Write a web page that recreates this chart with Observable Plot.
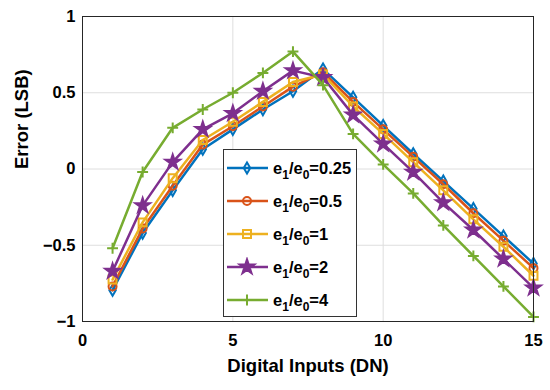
<!DOCTYPE html>
<html>
<head>
<meta charset="utf-8">
<script src="https://cdn.jsdelivr.net/npm/d3@7"></script>
<script src="https://cdn.jsdelivr.net/npm/@observablehq/plot@0.6"></script>
<style>
  body { margin: 0; background: #fff; }
  #wrap { position: relative; width: 550px; height: 390px; font-family: "Liberation Sans", Arial, sans-serif; }
  #legend { position: absolute; left: 223px; top: 149px; width: 134px; height: 168px; border: 1px solid #333; background: #fff; box-sizing: border-box; }
  .row { position: absolute; left: 0; height: 20px; display: flex; align-items: center; }
  .row svg { display: block; }
  .row span { font-weight: bold; font-size: 16.5px; color: #000; margin-left: 3px; white-space: nowrap; }
  .row sub { font-size: 12px; vertical-align: -5px; line-height: 0; }
</style>
</head>
<body>
<div id="wrap"></div>
<script>
// ---- data ----
const inputs = [1, 2, 3, 4, 5, 6, 7, 8, 9, 10, 11, 12, 13, 14, 15];
const ratios = ["0.25", "0.5", "1", "2", "4"];
const err025 = [-0.795, -0.42, -0.14, 0.13, 0.26, 0.39, 0.51, 0.655, 0.47, 0.285, 0.10, -0.08, -0.26, -0.44, -0.62];
const err05  = [-0.77, -0.39, -0.11, 0.16, 0.28, 0.41, 0.54, 0.635, 0.44, 0.26, 0.08, -0.10, -0.29, -0.47, -0.65];
const err1   = [-0.725, -0.35, -0.06, 0.19, 0.31, 0.44, 0.57, 0.62, 0.41, 0.23, 0.045, -0.14, -0.33, -0.51, -0.70];
const err2   = [-0.67, -0.24, 0.045, 0.26, 0.365, 0.51, 0.645, 0.60, 0.355, 0.165, -0.02, -0.22, -0.40, -0.59, -0.78];
const err4   = [-0.52, -0.02, 0.27, 0.39, 0.50, 0.63, 0.77, 0.55, 0.23, 0.03, -0.16, -0.37, -0.57, -0.77, -0.97];
const xTicks = [0, 5, 10, 15];
const yTicks = [-1, -0.5, 0, 0.5, 1];
const xGrid = [5, 10];
const yGrid = [-0.5, 0, 0.5];

const seriesValues = [err025, err05, err1, err2, err4];
const colors = ["#0072BD", "#D95319", "#EDB120", "#7E2F8E", "#77AC30"];
const symbols = ["diamond", "circle", "square", "star", "plus"];
const radii = [3.4, 4, 4.5, 4.6, 3.6];
const fills = ["none", "none", "none", "#7E2F8E", "none"];

const data = [];
ratios.forEach((r, i) => seriesValues[i].forEach((v, j) => data.push({ratio: r, x: inputs[j], y: v})));

const fmt = d => String(d).replace("-", "\u2212");

const marks = [
  Plot.ruleX(xGrid, {stroke: "#dedede", strokeWidth: 1}),
  Plot.ruleY(yGrid, {stroke: "#dedede", strokeWidth: 1})
];
ratios.forEach((r, i) => {
  const d = data.filter(p => p.ratio === r);
  marks.push(Plot.line(d, {x: "x", y: "y", stroke: colors[i], strokeWidth: 2.5}));
  marks.push(Plot.dot(d, {x: "x", y: "y", symbol: symbols[i], r: radii[i], stroke: colors[i], fill: fills[i], strokeWidth: 2}));
});
marks.push(Plot.frame({stroke: "#262626", strokeWidth: 1}));
marks.push(Plot.text(["Digital Inputs (DN)"], {text: d => d, frameAnchor: "bottom", dy: 50, fontSize: 18.5, fontWeight: "bold", fill: "#000"}));
marks.push(Plot.text(["Error (LSB)"], {text: d => d, frameAnchor: "left", dx: -60, rotate: -90, fontSize: 18.5, fontWeight: "bold", fill: "#000"}));

const chart = Plot.plot({
  width: 550,
  height: 390,
  marginLeft: 82,
  marginRight: 17,
  marginTop: 16,
  marginBottom: 69,
  x: {domain: [0, 15], ticks: xTicks, tickSize: 0, tickPadding: 13, tickFormat: fmt, label: null},
  y: {domain: [-1, 1], ticks: yTicks, tickSize: 0, tickPadding: 7, tickFormat: fmt, label: null},
  style: {fontFamily: "'Liberation Sans', Arial, sans-serif", fontSize: "16.5px", fontWeight: "bold", color: "#000", background: "#fff", overflow: "visible"},
  marks
});
document.getElementById("wrap").appendChild(chart);

// ---- legend ----
const legend = document.createElement("div");
legend.id = "legend";
document.getElementById("wrap").appendChild(legend);
const symMap = {diamond: d3.symbolDiamond, circle: d3.symbolCircle, square: d3.symbolSquare, star: d3.symbolStar, plus: d3.symbolPlus};
ratios.forEach((r, i) => {
  const row = document.createElement("div");
  row.className = "row";
  row.style.top = (8 + i * 33) + "px";
  const svg = d3.create("svg").attr("width", 46).attr("height", 20);
  svg.append("line").attr("x1", 3).attr("x2", 44).attr("y1", 10).attr("y2", 10).attr("stroke", colors[i]).attr("stroke-width", 2.5);
  svg.append("path").attr("transform", "translate(23,10)")
    .attr("d", d3.symbol(symMap[symbols[i]], Math.PI * radii[i] * radii[i])())
    .attr("stroke", colors[i]).attr("stroke-width", 2).attr("fill", fills[i] === "none" ? "none" : fills[i]);
  row.appendChild(svg.node());
  const span = document.createElement("span");
  span.innerHTML = "e<sub>1</sub>/e<sub>0</sub>=" + r;
  row.appendChild(span);
  legend.appendChild(row);
});
</script>
</body>
</html>
